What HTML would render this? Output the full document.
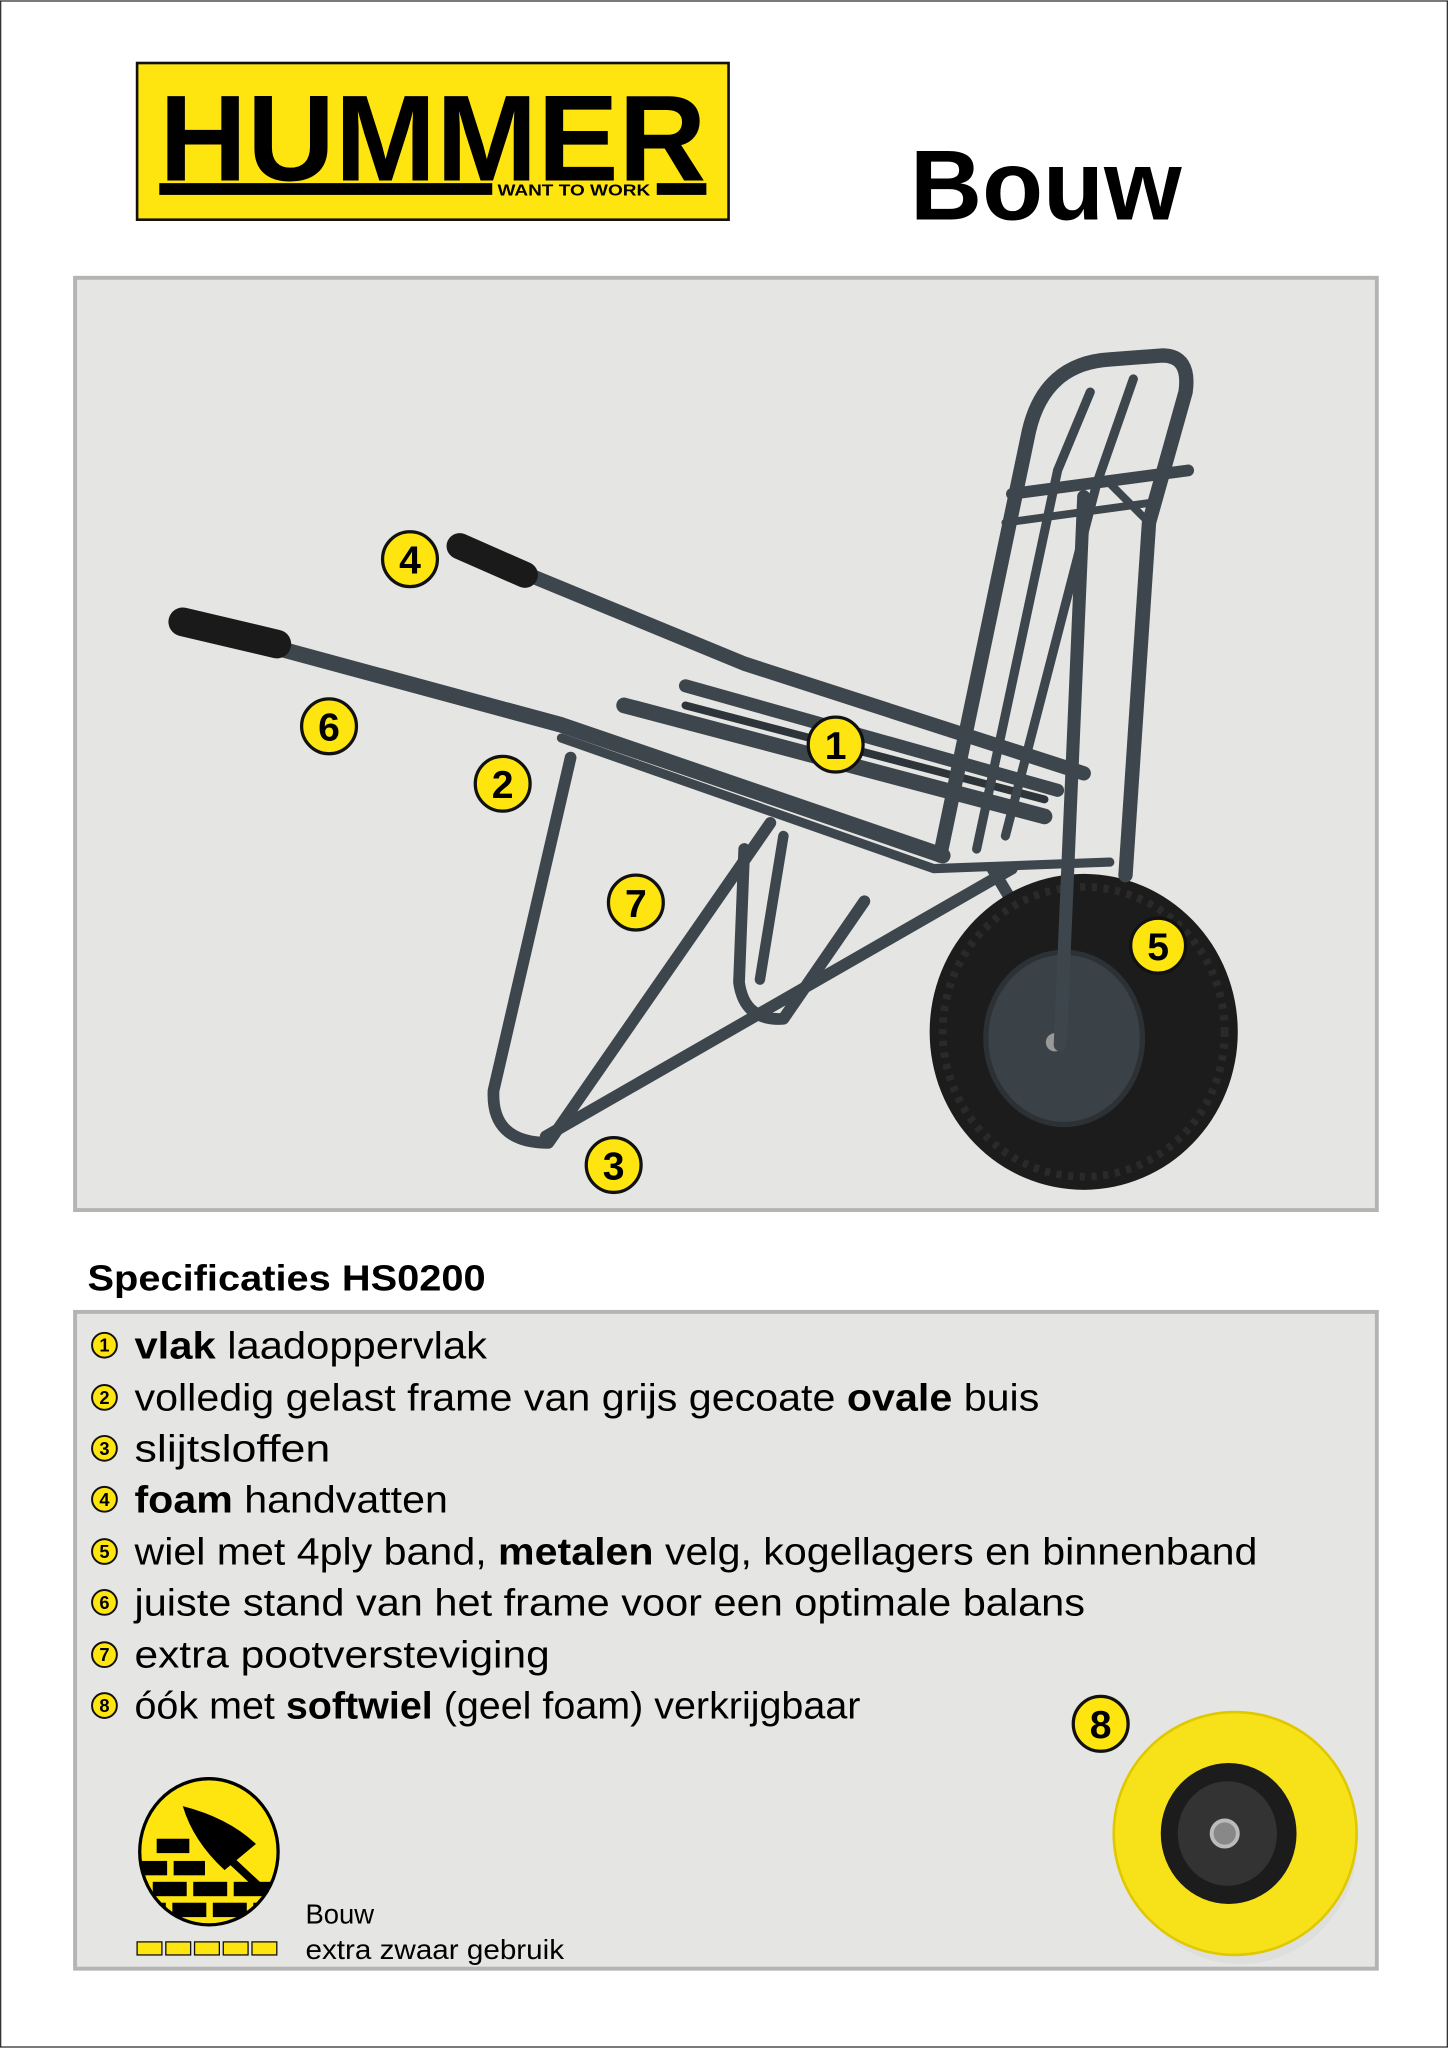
<!DOCTYPE html>
<html><head><meta charset="utf-8">
<style>
html,body{margin:0;padding:0;background:#fff;}
svg{display:block;}
text{font-family:"Liberation Sans",sans-serif;}
</style></head>
<body>
<svg width="1448" height="2048" viewBox="0 0 1109 1568" xmlns="http://www.w3.org/2000/svg">
<rect x="0.5" y="0.5" width="1108" height="1567" fill="#fff" stroke="#333" stroke-width="1"/>
<!-- logo -->
<rect x="105" y="48" width="453" height="120" fill="#ffe50f" stroke="#111" stroke-width="2"/>
<text x="122" y="138" font-size="94" font-weight="bold" fill="#000" textLength="419" lengthAdjust="spacingAndGlyphs">HUMMER</text>
<rect x="122" y="140" width="255" height="9" fill="#000"/>
<text x="381" y="149.5" font-size="12" font-weight="bold" fill="#000" textLength="117" lengthAdjust="spacingAndGlyphs">WANT TO WORK</text>
<rect x="503" y="140" width="38" height="9" fill="#000"/>
<text x="697" y="168" font-size="76" font-weight="bold" fill="#000" textLength="208" lengthAdjust="spacingAndGlyphs">Bouw</text>
<!-- panel 1 -->
<rect x="57.5" y="212.5" width="997" height="714" fill="#e5e5e3" stroke="#b4b4b4" stroke-width="3"/>
<!-- wheelbarrow -->
<g fill="none" stroke="#3d464c" stroke-linecap="round" stroke-linejoin="round">
 <!-- back leg -->
 <path d="M570 650 L566 752 Q570 782 600 780 L662 690" stroke-width="9"/>
 <path d="M600 640 L582 750" stroke-width="8"/>
 <!-- wheel fork/axle -->
 <path d="M760 665 L835 790" stroke-width="9"/>
 <!-- upper arm + rail -->
 <path d="M405 440 L570 508 L830 592" stroke-width="11"/>
 <!-- slats -->
 <path d="M478 540 L800 625" stroke-width="12"/>
 <path d="M525 525 L810 605" stroke-width="10"/>
 <path d="M525 540 L800 612" stroke-width="6" stroke="#2e353a"/>
 <!-- lower arm + rail -->
 <path d="M212 496 L430 555 L722 655" stroke-width="12"/>
 <path d="M430 565 L715 665 L850 660" stroke-width="7"/>
 <!-- front legs -->
 <path d="M437 580 L378 835 Q376 875 420 875 L590 630" stroke-width="9"/>
 <path d="M418 870 L775 665" stroke-width="9"/>
</g>
<!-- wheel -->
<ellipse cx="830" cy="790" rx="118" ry="121" fill="#1c1c1c"/>
<ellipse cx="830" cy="790" rx="108" ry="111" fill="none" stroke="#2a2a2a" stroke-width="6" stroke-dasharray="4 5"/>
<ellipse cx="815" cy="795" rx="60" ry="66" fill="#3a4247" stroke="#2b3135" stroke-width="4"/>
<circle cx="808" cy="798" r="7" fill="#999"/>
<!-- back frame -->
<g fill="none" stroke="#3d464c" stroke-linecap="round" stroke-linejoin="round">
 <path d="M720 655 L788 330 Q800 278 850 275 L890 272 Q912 272 908 300 L880 400 L862 670" stroke-width="11"/>
 <path d="M748 650 L810 360 L835 300" stroke-width="7"/>
 <path d="M770 640 L840 370 L868 290" stroke-width="7"/>
 <path d="M775 378 L910 360" stroke-width="9"/>
 <path d="M770 400 L880 385" stroke-width="6"/>
 <path d="M830 380 L812 800" stroke-width="10"/>
 <path d="M850 370 L880 400" stroke-width="6"/>
</g>
<!-- grips -->
<path d="M140 476 L212 493" stroke="#1a1a1a" stroke-width="22" stroke-linecap="round"/>
<path d="M352 418 L402 440" stroke="#1a1a1a" stroke-width="20" stroke-linecap="round"/>
<!-- callouts -->
<g font-size="30" font-weight="bold" text-anchor="middle" fill="#000">
 <g transform="translate(314,428)"><circle r="21" fill="#ffe50f" stroke="#111" stroke-width="2.5"/><text y="11">4</text></g>
 <g transform="translate(252,556)"><circle r="21" fill="#ffe50f" stroke="#111" stroke-width="2.5"/><text y="11">6</text></g>
 <g transform="translate(385,600)"><circle r="21" fill="#ffe50f" stroke="#111" stroke-width="2.5"/><text y="11">2</text></g>
 <g transform="translate(640,570)"><circle r="21" fill="#ffe50f" stroke="#111" stroke-width="2.5"/><text y="11">1</text></g>
 <g transform="translate(487,691)"><circle r="21" fill="#ffe50f" stroke="#111" stroke-width="2.5"/><text y="11">7</text></g>
 <g transform="translate(887,724)"><circle r="21" fill="#ffe50f" stroke="#111" stroke-width="2.5"/><text y="11">5</text></g>
 <g transform="translate(470,892)"><circle r="21" fill="#ffe50f" stroke="#111" stroke-width="2.5"/><text y="11">3</text></g>
</g>
<!-- spec title -->
<text x="67" y="988" font-size="28" font-weight="bold" fill="#000" textLength="305" lengthAdjust="spacingAndGlyphs">Specificaties HS0200</text>
<!-- panel 2 -->
<rect x="57.5" y="1004.5" width="997" height="503" fill="#e5e5e3" stroke="#b4b4b4" stroke-width="3"/>
<g font-size="29" fill="#000">
 <g font-size="14" font-weight="bold" text-anchor="middle">
  <g transform="translate(80,1030)"><circle r="9.5" fill="#ffe50f" stroke="#111" stroke-width="1.5"/><text y="5">1</text></g>
  <g transform="translate(80,1070)"><circle r="9.5" fill="#ffe50f" stroke="#111" stroke-width="1.5"/><text y="5">2</text></g>
  <g transform="translate(80,1109)"><circle r="9.5" fill="#ffe50f" stroke="#111" stroke-width="1.5"/><text y="5">3</text></g>
  <g transform="translate(80,1148)"><circle r="9.5" fill="#ffe50f" stroke="#111" stroke-width="1.5"/><text y="5">4</text></g>
  <g transform="translate(80,1188)"><circle r="9.5" fill="#ffe50f" stroke="#111" stroke-width="1.5"/><text y="5">5</text></g>
  <g transform="translate(80,1227)"><circle r="9.5" fill="#ffe50f" stroke="#111" stroke-width="1.5"/><text y="5">6</text></g>
  <g transform="translate(80,1267)"><circle r="9.5" fill="#ffe50f" stroke="#111" stroke-width="1.5"/><text y="5">7</text></g>
  <g transform="translate(80,1306)"><circle r="9.5" fill="#ffe50f" stroke="#111" stroke-width="1.5"/><text y="5">8</text></g>
 </g>
 <text x="103" y="1040" textLength="270" lengthAdjust="spacingAndGlyphs"><tspan font-weight="bold">vlak</tspan> laadoppervlak</text>
 <text x="103" y="1080" textLength="693" lengthAdjust="spacingAndGlyphs">volledig gelast frame van grijs gecoate <tspan font-weight="bold">ovale</tspan> buis</text>
 <text x="103" y="1119" textLength="150" lengthAdjust="spacingAndGlyphs">slijtsloffen</text>
 <text x="103" y="1158" textLength="240" lengthAdjust="spacingAndGlyphs"><tspan font-weight="bold">foam</tspan> handvatten</text>
 <text x="103" y="1198" textLength="860" lengthAdjust="spacingAndGlyphs">wiel met 4ply band, <tspan font-weight="bold">metalen</tspan> velg, kogellagers en binnenband</text>
 <text x="103" y="1237" textLength="728" lengthAdjust="spacingAndGlyphs">juiste stand van het frame voor een optimale balans</text>
 <text x="103" y="1277" textLength="318" lengthAdjust="spacingAndGlyphs">extra pootversteviging</text>
 <text x="103" y="1316" textLength="556" lengthAdjust="spacingAndGlyphs">óók met <tspan font-weight="bold">softwiel</tspan> (geel foam) verkrijgbaar</text>
</g>
<!-- icon -->
<defs><clipPath id="ic"><ellipse cx="160" cy="1418" rx="53" ry="56"/></clipPath></defs>
<ellipse cx="160" cy="1418" rx="53" ry="56" fill="#ffe50f" stroke="#000" stroke-width="2.5"/>
<g clip-path="url(#ic)" fill="#000">
 <rect x="120" y="1408" width="25" height="11"/>
 <rect x="104" y="1425" width="24" height="11"/><rect x="133" y="1425" width="24" height="11"/>
 <rect x="100" y="1441" width="12" height="11"/><rect x="117" y="1441" width="26" height="11"/><rect x="148" y="1441" width="26" height="11"/><rect x="179" y="1441" width="40" height="11"/>
 <rect x="100" y="1457" width="27" height="11"/><rect x="132" y="1457" width="26" height="11"/><rect x="163" y="1457" width="26" height="11"/><rect x="194" y="1457" width="20" height="11"/>
 <rect x="100" y="1473" width="120" height="20"/>
</g>
<path d="M140 1383 Q175 1392 196 1412 L172 1432 Q148 1410 140 1383 Z" fill="#000"/>
<path d="M172 1420 L200 1446" stroke="#000" stroke-width="6" stroke-linecap="round"/>
<g fill="#ffe50f" stroke="#111" stroke-width="1">
 <rect x="105" y="1487" width="19" height="10"/><rect x="127" y="1487" width="19" height="10"/><rect x="149" y="1487" width="19" height="10"/><rect x="171" y="1487" width="19" height="10"/><rect x="193" y="1487" width="19" height="10"/>
</g>
<text x="234" y="1473" font-size="21" fill="#000">Bouw</text>
<text x="234" y="1500" font-size="21" fill="#000" textLength="198" lengthAdjust="spacingAndGlyphs">extra zwaar gebruik</text>
<!-- yellow wheel -->
<ellipse cx="950" cy="1410" rx="90" ry="94" fill="#d8d8d8" opacity="0.5"/>
<circle cx="946" cy="1404" r="93" fill="#f7e21a" stroke="#e0c800" stroke-width="2"/>
<ellipse cx="941" cy="1404" rx="52" ry="54" fill="#1c1c1c"/>
<ellipse cx="940" cy="1404" rx="38" ry="40" fill="#333"/>
<circle cx="938" cy="1404" r="10" fill="#888" stroke="#bbb" stroke-width="3"/>
<g font-size="30" font-weight="bold" text-anchor="middle" fill="#000">
 <g transform="translate(843,1320)"><circle r="21" fill="#ffe50f" stroke="#111" stroke-width="2.5"/><text y="11">8</text></g>
</g>
</svg>
</body></html>
